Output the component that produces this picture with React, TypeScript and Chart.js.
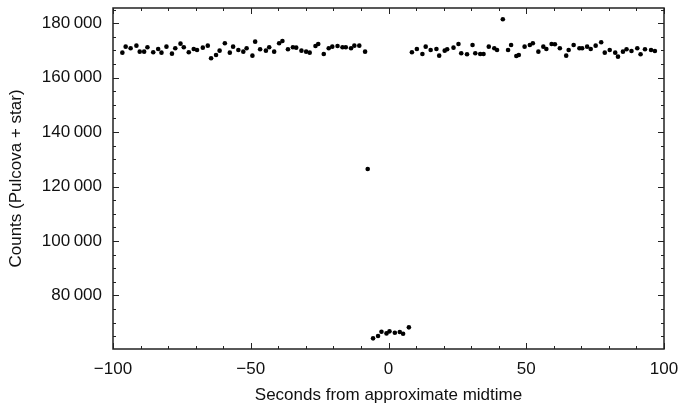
import { useEffect, useRef } from "react";
import { Chart, registerables } from "chart.js";

Chart.register(...registerables);

// Out-of-eclipse, before midtime
const beforeSeconds = [
  -96.6, -95.4, -93.6, -91.5, -90.3, -88.7, -87.5, -85.4, -83.6, -82.4, -80.6, -78.6,
  -77.4, -75.5, -74.3, -72.5, -70.7, -69.5, -67.4, -65.6, -64.4, -62.6, -61.3,
  -59.4, -57.6, -56.4, -54.5, -52.7, -51.5, -49.4, -48.4, -46.6, -44.5, -43.3, -41.5,
  -39.7, -38.5, -36.5, -34.7, -33.5, -31.6, -29.9, -28.6, -26.5, -25.5, -23.5, -21.7,
  -20.4, -18.5, -16.7, -15.5, -13.6, -12.4, -10.6, -8.5,
];
const beforeCounts = [
  169190, 171400, 170810, 171770, 169560, 169560, 171180, 169340, 170550, 169190, 171400, 168820,
  170810, 172500, 171180, 169340, 170550, 170180, 171030, 171770, 167130, 168350, 169930,
  172650, 169190, 171400, 170180, 169560, 170810, 168090, 173240, 170440, 169930, 171180, 169560,
  172650, 173490, 170440, 171180, 171030, 169930, 169560, 169190, 171660, 172390, 168710, 170810,
  171400, 171660, 171180, 171180, 170810, 171770, 171770, 169560,
];

// Transition / occultation
const eclipseSeconds = [-7.55, -5.6, -3.8, -2.55, -0.73, 0.36, 2.3, 4.1, 5.3, 7.4];
const eclipseCounts = [126440, 64210, 65050, 66630, 66040, 66780, 66270, 66520, 65900, 68250];

// Out-of-eclipse, after midtime
const afterSeconds = [
  8.5, 10.3, 12.3, 13.5, 15.3, 17.4, 18.4, 20.4, 21.3,
  23.6, 25.4, 26.4, 28.5, 30.5, 31.5, 33.3, 34.5, 36.4, 38.4, 39.4, 41.5, 43.4, 44.5,
  46.4, 47.3, 49.4, 51.3, 52.4, 54.4, 56.2, 57.3, 59.2, 60.4, 62.2,
  64.5, 65.4, 67.2, 69.3, 70.3, 72.1, 73.4, 75.2, 77.2, 78.5, 80.3, 82.3, 83.3, 85.1,
  86.4, 88.2, 90.3, 91.5, 93.1, 95.3, 96.7,
];
const afterCounts = [
  169340, 170550, 168710, 171400, 170180, 170550, 168090, 169930, 170440,
  171030, 172390, 168970, 168600, 172020, 168970, 168710, 168710, 171400, 170810, 170180, 181470, 170180, 172020,
  167980, 168350, 171400, 172020, 172650, 169560, 171400, 170550, 172390, 172280, 170810,
  168090, 170180, 172020, 170810, 170810, 171400, 170550, 171770, 173020, 169190, 170180, 169190, 167720, 169560,
  170440, 169820, 170810, 168600, 170440, 170180, 169820,
];

const xMajorTicks = [-100, -50, 0, 50, 100];
const xMinorTicks = [-90, -80, -70, -60, -40, -30, -20, -10, 10, 20, 30, 40, 60, 70, 80, 90];
const yMajorTicks = [80000, 100000, 120000, 140000, 160000, 180000];
const yMinorTicks = [65000, 70000, 75000, 85000, 90000, 95000, 105000, 110000, 115000, 125000, 130000, 135000, 145000, 150000, 155000, 165000, 170000, 175000, 185000];

const xTitle = "Seconds from approximate midtime";
const yTitle = "Counts (Pulcova + star)";

const FONT = "'Liberation Sans', Arial, Helvetica, sans-serif";

function fmtY(v: number) {
  return String(v).replace(/\B(?=(\d{3})+(?!\d))/g, "\u2009");
}
function fmtX(v: number) {
  return v < 0 ? "\u2212" + Math.abs(v) : String(v);
}

const framePlugin = {
  id: "frameTicks",
  afterDatasetsDraw(chart: any) {
    const { ctx, chartArea } = chart;
    const { left, right, top, bottom } = chartArea;
    const xs = chart.scales.x;
    const ys = chart.scales.y;
    ctx.save();
    ctx.strokeStyle = "#222";
    ctx.lineWidth = 1;
    const major = 6;
    const minor = 3;
    const drawX = (vals: number[], len: number) => {
      vals.forEach((v) => {
        const px = Math.round(xs.getPixelForValue(v)) + 0.5;
        ctx.beginPath();
        ctx.moveTo(px, bottom);
        ctx.lineTo(px, bottom - len);
        ctx.moveTo(px, top);
        ctx.lineTo(px, top + len);
        ctx.stroke();
      });
    };
    const drawY = (vals: number[], len: number) => {
      vals.forEach((v) => {
        const py = Math.round(ys.getPixelForValue(v)) + 0.5;
        ctx.beginPath();
        ctx.moveTo(left, py);
        ctx.lineTo(left + len, py);
        ctx.moveTo(right, py);
        ctx.lineTo(right - len, py);
        ctx.stroke();
      });
    };
    drawX(xMajorTicks, major);
    drawX(xMinorTicks, minor);
    drawY(yMajorTicks, major);
    drawY(yMinorTicks, minor);
    ctx.lineWidth = 1.5;
    ctx.strokeRect(left, top, right - left, bottom - top);
    ctx.restore();
  },
};

export default function App() {
  const ref = useRef<HTMLCanvasElement>(null);
  useEffect(() => {
    if (!ref.current) return;
    const points = [
      ...beforeSeconds.map((x, i) => ({ x, y: beforeCounts[i] })),
      ...eclipseSeconds.map((x, i) => ({ x, y: eclipseCounts[i] })),
      ...afterSeconds.map((x, i) => ({ x, y: afterCounts[i] })),
    ];
    const chart = new Chart(ref.current, {
      type: "scatter",
      data: {
        datasets: [
          {
            data: points,
            backgroundColor: "#000",
            borderColor: "#000",
            pointRadius: 2.3,
            pointBorderWidth: 0,
            pointHoverRadius: 2.3,
          },
        ],
      },
      options: {
        animation: false,
        responsive: false,
        maintainAspectRatio: false,
        events: [],
        layout: { padding: { left: 0, right: 14, top: 8, bottom: 0 } },
        plugins: { legend: { display: false }, tooltip: { enabled: false } },
        scales: {
          x: {
            type: "linear",
            min: -100,
            max: 100,
            grid: { display: false, drawTicks: false },
            border: { display: false },
            afterBuildTicks: (s: any) => {
              s.ticks = xMajorTicks.map((v) => ({ value: v }));
            },
            afterFit: (s: any) => {
              s.height = 57;
              s.paddingLeft = 0;
              s.paddingRight = 0;
            },
            ticks: {
              color: "#111",
              font: { family: FONT, size: 17 },
              padding: 10,
              maxRotation: 0,
              autoSkip: false,
              callback: (v: any) => fmtX(Number(v)),
            },
            title: {
              display: true,
              text: xTitle,
              color: "#111",
              font: { family: FONT, size: 17 },
              padding: { top: 0, bottom: 0 },
            },
          },
          y: {
            type: "linear",
            min: 60300,
            max: 185600,
            grid: { display: false, drawTicks: false },
            border: { display: false },
            afterBuildTicks: (s: any) => {
              s.ticks = yMajorTicks.map((v) => ({ value: v }));
            },
            afterFit: (s: any) => {
              s.width = 113;
              s.paddingTop = 0;
              s.paddingBottom = 0;
            },
            ticks: {
              color: "#111",
              font: { family: FONT, size: 17 },
              padding: 11,
              autoSkip: false,
              callback: (v: any) => fmtY(Number(v)),
            },
            title: {
              display: true,
              text: yTitle,
              color: "#111",
              font: { family: FONT, size: 17 },
              padding: { top: 6, bottom: 0 },
            },
          },
        },
      },
      plugins: [framePlugin],
    });
    return () => chart.destroy();
  }, []);
  return (
    <div style={{ position: "fixed", left: 0, top: 0, width: 678, height: 406, background: "#fff" }}>
      <canvas ref={ref} width={678} height={406} style={{ display: "block" }} />
    </div>
  );
}
